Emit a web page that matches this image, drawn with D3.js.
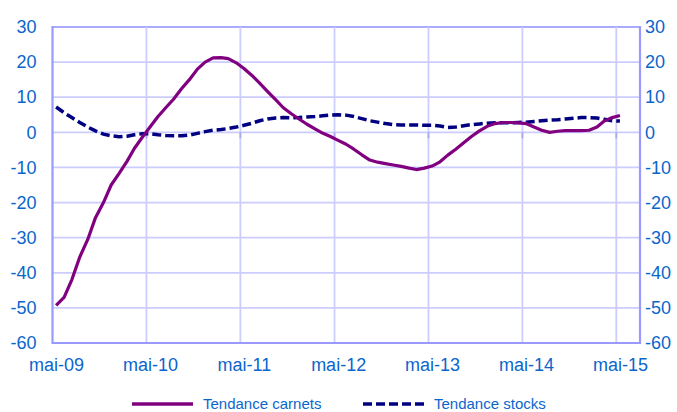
<!DOCTYPE html>
<html>
<head>
<meta charset="utf-8">
<script src="https://cdn.jsdelivr.net/npm/d3@7"></script>
<style>
  body { margin: 0; background: #fff; }
  svg { display: block; font-family: "Liberation Sans", Arial, sans-serif; }
</style>
</head>
<body>
<div id="chart"></div>
<script>
// données mensuelles, mai-09 -> mai-15
const carnets = [
  -49.3, -47, -42, -35.5, -30.5, -24.3, -20, -15, -11.7, -8.2, -4.6, -1.4,
  1.5, 4.5, 7, 9.5, 12.5, 15, 18, 20, 21.2, 21.3, 21, 19.8,
  18.2, 16.2, 14, 11.6, 9.3, 7, 5.3, 3.8, 2.3, 1, -0.2, -1.2,
  -2.3, -3.4, -4.8, -6.4, -7.9, -8.5, -8.9, -9.3, -9.7, -10.2, -10.6, -10.2,
  -9.6, -8.4, -6.5, -4.8, -3, -1.2, 0.4, 1.7, 2.5, 2.8, 2.8, 2.7,
  2.5, 1.5, 0.6, 0, 0.3, 0.5, 0.5, 0.5, 0.6, 1.5, 3.2, 4.2,
  4.8
];
const stocks = [
  7.2, 5.6, 4.2, 2.8, 1.5, 0.4, -0.5, -1, -1.25, -1.1, -0.7, -0.4,
  -0.4, -0.7, -0.9, -1, -1, -0.8, -0.3, 0.2, 0.6, 0.8, 1.1, 1.5,
  2, 2.6, 3.3, 3.8, 4.1, 4.2, 4.1, 4.2, 4.4, 4.5, 4.7, 4.9,
  5, 4.9, 4.5, 3.9, 3.3, 2.9, 2.5, 2.2, 2.1, 2.1, 2.1, 2,
  2, 1.8, 1.4, 1.5, 1.9, 2.2, 2.4, 2.6, 2.7, 2.7, 2.7, 2.8,
  2.9, 3.1, 3.3, 3.5, 3.6, 3.8, 4, 4.2, 4.2, 4.1, 3.7, 3.3,
  3.2
];
const months = d3.range(carnets.length).map(i => new Date(2009, 4 + i, 15));
const xLabels = ["mai-09", "mai-10", "mai-11", "mai-12", "mai-13", "mai-14", "mai-15"];
const yTicks = [-60, -50, -40, -30, -20, -10, 0, 10, 20, 30];
const seriesNames = ["Tendance carnets", "Tendance stocks"];

const width = 677, height = 412;
const plot = {left: 52.5, right: 640, top: 27, bottom: 343};
const textColor = "#0a66cc";

const svg = d3.select("#chart").append("svg")
  .attr("width", width)
  .attr("height", height);

const x = d3.scaleTime()
  .domain([new Date(2009, 4, 1), new Date(2015, 7, 1)])
  .range([plot.left, plot.right]);

const y = d3.scaleLinear()
  .domain([-60, 30])
  .range([plot.bottom, plot.top]);

const yearStarts = xLabels.map((d, i) => new Date(2009 + i, 4, 1));
const labelDates = xLabels.map((d, i) => new Date(2009 + i, 4, 15));

// grille
svg.append("g")
  .selectAll("line")
  .data(yTicks.filter(d => d > -60))
  .join("line")
  .attr("x1", plot.left).attr("x2", plot.right)
  .attr("y1", d => y(d)).attr("y2", d => y(d))
  .attr("stroke", d => d === 30 ? "#aaaaff" : "#ccccff")
  .attr("stroke-width", 1.8);

svg.append("g")
  .selectAll("line")
  .data(yearStarts.slice(1))
  .join("line")
  .attr("x1", d => x(d)).attr("x2", d => x(d))
  .attr("y1", plot.top).attr("y2", plot.bottom)
  .attr("stroke", "#ccccff")
  .attr("stroke-width", 1.8);

// petits repères sur l'axe zéro
svg.append("g")
  .selectAll("line")
  .data(yearStarts.slice(1))
  .join("line")
  .attr("x1", d => x(d)).attr("x2", d => x(d))
  .attr("y1", y(0)).attr("y2", y(0) + 6)
  .attr("stroke", "#aaaaee")
  .attr("stroke-width", 1.8);

// cadre
svg.append("line")
  .attr("x1", plot.left).attr("x2", plot.left).attr("y1", plot.top - 1).attr("y2", plot.bottom + 1)
  .attr("stroke", "#9999ff").attr("stroke-width", 2.2);
svg.append("line")
  .attr("x1", plot.right).attr("x2", plot.right).attr("y1", plot.top - 1).attr("y2", plot.bottom + 1)
  .attr("stroke", "#9999ff").attr("stroke-width", 2.2);
svg.append("line")
  .attr("x1", plot.left).attr("x2", plot.right).attr("y1", plot.bottom).attr("y2", plot.bottom)
  .attr("stroke", "#9999ff").attr("stroke-width", 2.2);

// axes Y gauche et droit (tiret simple comme signe moins)
const styleTicks = g => g.selectAll("text")
  .attr("fill", textColor)
  .style("font-size", "18px")
  .style("font-family", "Liberation Sans, Arial, sans-serif");

svg.append("g")
  .attr("transform", `translate(${plot.left},0)`)
  .call(d3.axisLeft(y).tickValues(yTicks).tickSize(0).tickPadding(16).tickFormat(d => String(d)))
  .call(g => g.select(".domain").remove())
  .call(styleTicks);

svg.append("g")
  .attr("transform", `translate(${plot.right},0)`)
  .call(d3.axisRight(y).tickValues(yTicks).tickSize(0).tickPadding(5).tickFormat(d => String(d)))
  .call(g => g.select(".domain").remove())
  .call(styleTicks);

// axe X (libellés)
svg.append("g")
  .attr("transform", `translate(0,${plot.bottom})`)
  .call(d3.axisBottom(x)
    .tickValues(labelDates)
    .tickSize(0)
    .tickPadding(15)
    .tickFormat((d, i) => xLabels[i]))
  .call(g => g.select(".domain").remove())
  .call(styleTicks);

// courbes
const line = d3.line()
  .x((d, i) => x(months[i]))
  .y(d => y(d));

svg.append("path")
  .datum(stocks)
  .attr("d", line)
  .attr("fill", "none")
  .attr("stroke", "#000080")
  .attr("stroke-width", 3.5)
  .attr("stroke-dasharray", "9,4");

svg.append("path")
  .datum(carnets)
  .attr("d", line)
  .attr("fill", "none")
  .attr("stroke", "#800080")
  .attr("stroke-width", 3.2)
  .attr("stroke-linejoin", "round");

// légende
const legend = svg.append("g");
const legendItems = [
  {name: seriesNames[0], x0: 132, color: "#800080", dash: null},
  {name: seriesNames[1], x0: 363, color: "#000080", dash: "9,4"}
];
legendItems.forEach(d => {
  legend.append("line")
    .attr("x1", d.x0).attr("x2", d.x0 + 61)
    .attr("y1", 404).attr("y2", 404)
    .attr("stroke", d.color)
    .attr("stroke-width", 3.5)
    .attr("stroke-dasharray", d.dash);
  legend.append("text")
    .attr("x", d.x0 + 71)
    .attr("y", 404)
    .attr("dy", "0.35em")
    .attr("fill", textColor)
    .style("font-size", "15px")
    .text(d.name);
});
</script>
</body>
</html>
